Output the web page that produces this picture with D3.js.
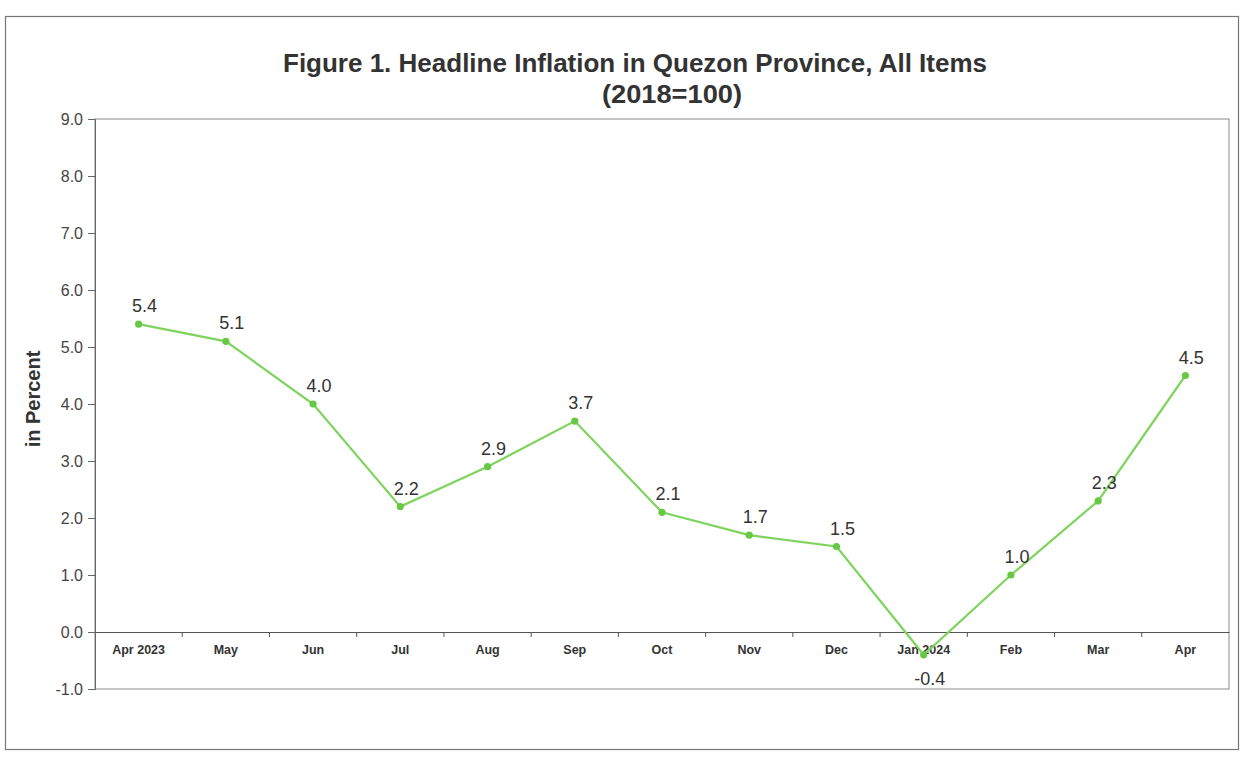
<!DOCTYPE html>
<html>
<head>
<meta charset="utf-8">
<script src="https://cdn.jsdelivr.net/npm/d3@7"></script>
<style>
  html, body { margin: 0; padding: 0; background: #ffffff; }
  svg { display: block; font-family: "Liberation Sans", Arial, sans-serif; }
</style>
</head>
<body>
<svg id="chart" width="1244" height="762"></svg>
<script>
const categories = ["Apr 2023", "May", "Jun", "Jul", "Aug", "Sep", "Oct", "Nov", "Dec", "Jan 2024", "Feb", "Mar", "Apr"];
const inflation = [5.4, 5.1, 4.0, 2.2, 2.9, 3.7, 2.1, 1.7, 1.5, -0.4, 1.0, 2.3, 4.5];
const yTicks = [-1, 0, 1, 2, 3, 4, 5, 6, 7, 8, 9];
const titleLine1 = "Figure 1. Headline Inflation in Quezon Province, All Items";
const titleLine2 = "(2018=100)";
const yTitle = "in Percent";

const fmt = d => d.toFixed(1);   // plain hyphen minus, as in the reference

const svg = d3.select("#chart");
const plot = { left: 95, right: 1229, top: 119, bottom: 689 };

// outer chart border
svg.append("rect")
  .attr("x", 5.5).attr("y", 16.5)
  .attr("width", 1233).attr("height", 733)
  .attr("fill", "#fff").attr("stroke", "#777").attr("stroke-width", 1.2);

const x = d3.scaleBand().domain(categories).range([plot.left, plot.right]).padding(0);
const y = d3.scaleLinear().domain([-1, 9]).range([plot.bottom, plot.top]);

// plot area border
svg.append("rect")
  .attr("x", plot.left).attr("y", plot.top)
  .attr("width", plot.right - plot.left).attr("height", plot.bottom - plot.top)
  .attr("fill", "none").attr("stroke", "#888").attr("stroke-width", 1);

// y axis
const yAxis = d3.axisLeft(y).tickValues(yTicks).tickFormat(fmt).tickSize(7).tickPadding(5);
const gy = svg.append("g").attr("transform", `translate(${plot.left},0)`).call(yAxis);
gy.select(".domain").attr("stroke", "#666");
gy.selectAll(".tick line").attr("stroke", "#666");
gy.selectAll(".tick text").attr("fill", "#444").style("font-size", "16px");

// x axis at zero
const xAxis = d3.axisBottom(x).tickSize(0).tickPadding(13);
const gx = svg.append("g").attr("transform", `translate(0,${y(0)})`).call(xAxis);
gx.select(".domain").attr("stroke", "#555").attr("stroke-width", 1.2);
gx.selectAll(".tick text").attr("fill", "#333").style("font-size", "12.5px").style("font-weight", "bold");
gx.selectAll(".bnd").data(categories.slice(1)).enter().append("line")
  .attr("class", "bnd")
  .attr("x1", d => x(d)).attr("x2", d => x(d))
  .attr("y1", 0).attr("y2", 5)
  .attr("stroke", "#555");

// line
const cx = d => x(d) + x.bandwidth() / 2;
const line = d3.line().x((d, i) => cx(categories[i])).y(d => y(d));
svg.append("path").datum(inflation)
  .attr("d", line)
  .attr("fill", "none").attr("stroke", "#7fd35f").attr("stroke-width", 2.2);

// markers
svg.selectAll(".mk").data(inflation).enter().append("circle")
  .attr("class", "mk")
  .attr("cx", (d, i) => cx(categories[i]))
  .attr("cy", d => y(d))
  .attr("r", 3.6)
  .attr("fill", "#66c843");

// data labels
svg.selectAll(".lbl").data(inflation).enter().append("text")
  .attr("class", "lbl")
  .attr("x", (d, i) => cx(categories[i]) + 6)
  .attr("y", d => d < 0 ? y(d) + 30 : y(d) - 12)
  .attr("text-anchor", "middle")
  .attr("fill", "#333")
  .style("font-size", "18px")
  .text(d => fmt(d));

// title
svg.append("text").attr("x", 635).attr("y", 72).attr("text-anchor", "middle")
  .attr("textLength", 704).attr("lengthAdjust", "spacingAndGlyphs")
  .style("font-size", "25px").style("font-weight", "bold").attr("fill", "#333")
  .text(titleLine1);
svg.append("text").attr("x", 672).attr("y", 103).attr("text-anchor", "middle")
  .attr("textLength", 140).attr("lengthAdjust", "spacingAndGlyphs")
  .style("font-size", "25px").style("font-weight", "bold").attr("fill", "#333")
  .text(titleLine2);

// y title
svg.append("text")
  .attr("transform", `translate(40,${(plot.top + plot.bottom) / 2 - 5}) rotate(-90)`)
  .attr("text-anchor", "middle")
  .style("font-size", "20px").style("font-weight", "bold").attr("fill", "#333")
  .text(yTitle);
</script>
</body>
</html>
